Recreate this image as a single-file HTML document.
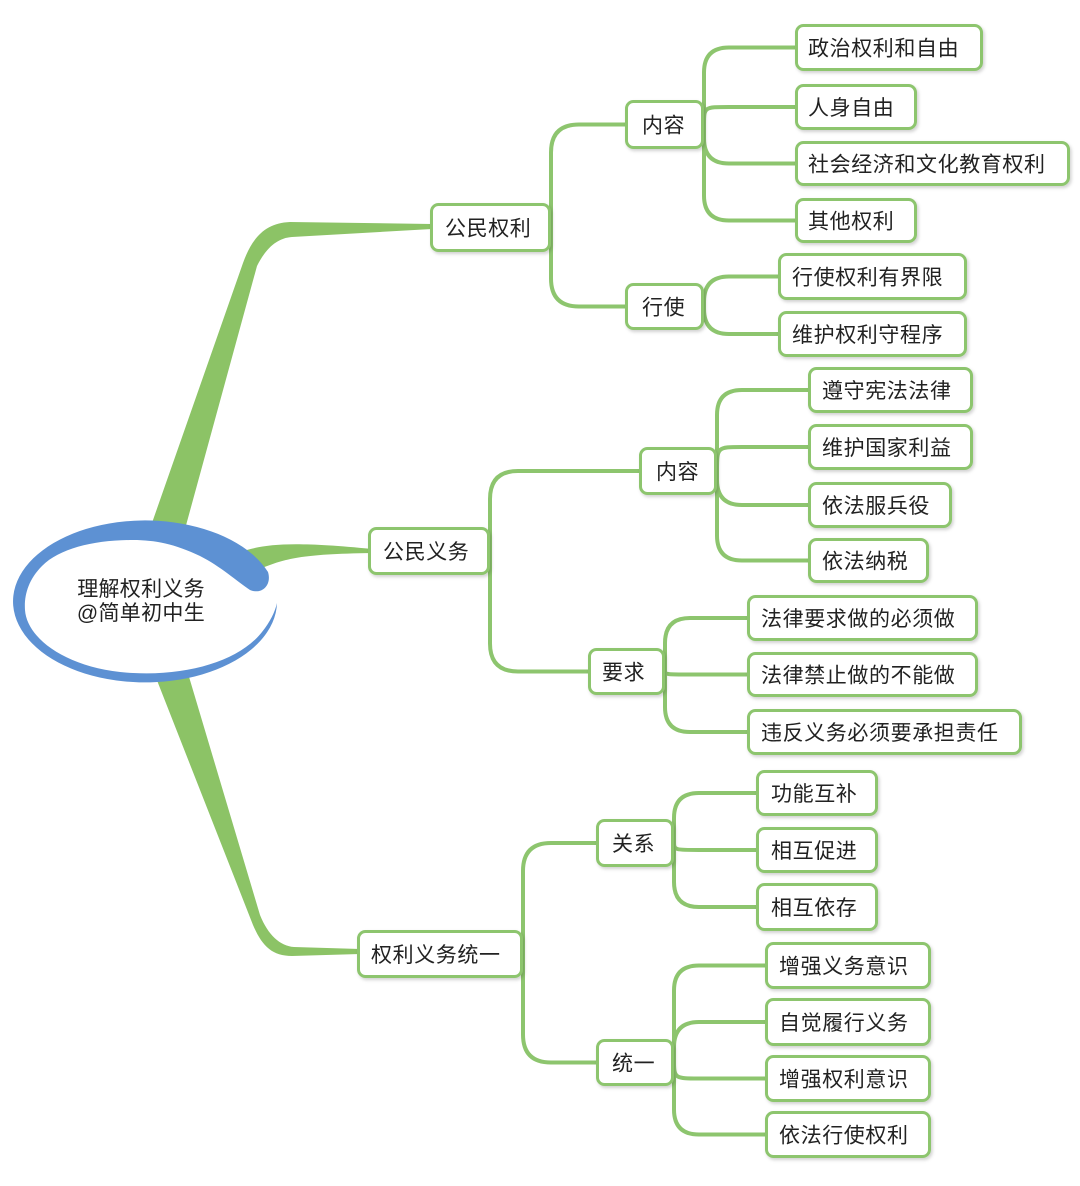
<!DOCTYPE html>
<html>
<head>
<meta charset="utf-8">
<style>
html,body{margin:0;padding:0;background:#fff;}
body{width:1080px;height:1186px;overflow:hidden;}
svg{display:block;}
.t{font-family:"Liberation Sans","Noto Sans CJK SC",sans-serif;font-size:21px;fill:#222;letter-spacing:0.6px;}
.c{fill:none;stroke:#8dc56e;stroke-width:4;stroke-linecap:round;stroke-linejoin:round;}
.b{fill:#fff;stroke:#8dc56e;stroke-width:3;}
</style>
</head>
<body>
<svg width="1080" height="1186" viewBox="0 0 1080 1186" xmlns="http://www.w3.org/2000/svg">
<defs>
<filter id="sh" x="-10%" y="-20%" width="130%" height="150%">
<feDropShadow dx="1.5" dy="2" stdDeviation="1.5" flood-color="#000" flood-opacity="0.18"/>
</filter>
</defs>

<!-- thick main branches -->
<path fill="#8cc366" d="M146 540 L243 263 C252 238 265 223 290 222 L432 224 L432 229 L292 237 C276 238 265 250 257 266 L182 540 Z"/>
<path fill="#8cc366" d="M240 552 C265 544 290 541 372 549 L372 553 C300 554 285 559 262 568 L245 575 Z"/>
<path fill="#8cc366" d="M149 660 L253 925 C262 946 272 956 292 956 L360 954 L360 949 L294 947 C280 946 268 935 260 915 L184 660 Z"/>

<!-- central ellipse -->
<ellipse cx="145" cy="601" rx="128" ry="77" fill="#fff"/>
<path fill="#5d91d3" d="M277 603 A132 81 0 1 1 268 572 C272 585 262 595 250 590 C238 582 220 566 200 556 C175 544 155 540 133 540 C95 540 60 548 42 566 C28 580 24 596 25 610 C27 640 70 670 133 673 C190 676 240 660 262 632 C270 622 275 612 277 603 Z"/>
<text class="t" x="205" y="596" text-anchor="end" style="letter-spacing:0.3px">理解权利义务</text>
<text class="t" x="205" y="620" text-anchor="end" style="letter-spacing:0.3px">@简单初中生</text>

<!-- connectors section 1 -->
<path class="c" d="M551 227.5 L551 152.5 Q551 124.5 579 124.5 L625 124.5"/>
<path class="c" d="M551 227.5 L551 278.5 Q551 306.5 579 306.5 L625 306.5"/>
<path class="c" d="M704 124.5 L704 72.5 Q704 47.5 729 47.5 L795 47.5"/>
<path class="c" d="M704 124.5 C704 107 704 107 729 107 L795 107"/>
<path class="c" d="M704 124.5 L704 138.5 Q704 163.5 729 163.5 L795 163.5"/>
<path class="c" d="M704 124.5 L704 195.5 Q704 220.5 729 220.5 L795 220.5"/>
<path class="c" d="M704 306.5 L704 301.5 Q704 276.5 729 276.5 L778 276.5"/>
<path class="c" d="M704 306.5 L704 309 Q704 334 729 334 L778 334"/>

<!-- connectors section 2 -->
<path class="c" d="M490 551 L490 499 Q490 471 518 471 L639 471"/>
<path class="c" d="M490 551 L490 643.5 Q490 671.5 518 671.5 L588 671.5"/>
<path class="c" d="M717 471 L717 415 Q717 390 742 390 L808 390"/>
<path class="c" d="M717 471 C717 447 717 447 742 447 L808 447"/>
<path class="c" d="M717 471 L717 480 Q717 505 742 505 L808 505"/>
<path class="c" d="M717 471 L717 535.5 Q717 560.5 742 560.5 L808 560.5"/>
<path class="c" d="M665 671.5 L665 643 Q665 618 690 618 L747 618"/>
<path class="c" d="M665 671.5 C665 674.5 668 674.5 690 674.5 L747 674.5"/>
<path class="c" d="M665 671.5 L665 707 Q665 732 690 732 L747 732"/>

<!-- connectors section 3 -->
<path class="c" d="M523 954 L523 871 Q523 843 551 843 L596 843"/>
<path class="c" d="M523 954 L523 1034.5 Q523 1062.5 551 1062.5 L596 1062.5"/>
<path class="c" d="M674 843 L674 818 Q674 793 699 793 L756 793"/>
<path class="c" d="M674 843 C674 850 676 850 699 850 L756 850"/>
<path class="c" d="M674 843 L674 882 Q674 907 699 907 L756 907"/>
<path class="c" d="M674 1062.5 L674 990.5 Q674 965.5 699 965.5 L765 965.5"/>
<path class="c" d="M674 1062.5 L674 1047 Q674 1022 699 1022 L765 1022"/>
<path class="c" d="M674 1062.5 C674 1078.5 676 1078.5 699 1078.5 L765 1078.5"/>
<path class="c" d="M674 1062.5 L674 1109.5 Q674 1134.5 699 1134.5 L765 1134.5"/>

<!-- boxes -->
<g filter="url(#sh)">
<rect class="b" x="431.5" y="204.5" width="118" height="46" rx="7"/>
<rect class="b" x="626.5" y="101.5" width="76" height="46" rx="7"/>
<rect class="b" x="626.5" y="284.5" width="76" height="44" rx="7"/>
<rect class="b" x="796.5" y="25.5" width="185" height="44" rx="7"/>
<rect class="b" x="796.5" y="85.5" width="119" height="43" rx="7"/>
<rect class="b" x="796.5" y="142.5" width="272" height="42" rx="7"/>
<rect class="b" x="796.5" y="199.5" width="119" height="42" rx="7"/>
<rect class="b" x="779.5" y="254.5" width="186" height="44" rx="7"/>
<rect class="b" x="779.5" y="312.5" width="186" height="43" rx="7"/>

<rect class="b" x="369.5" y="528.5" width="119" height="45" rx="7"/>
<rect class="b" x="640.5" y="448.5" width="75" height="45" rx="7"/>
<rect class="b" x="589.5" y="649.5" width="74" height="44" rx="7"/>
<rect class="b" x="809.5" y="368.5" width="162" height="43" rx="7"/>
<rect class="b" x="809.5" y="425.5" width="162" height="43" rx="7"/>
<rect class="b" x="809.5" y="483.5" width="141" height="43" rx="7"/>
<rect class="b" x="809.5" y="539.5" width="118" height="42" rx="7"/>
<rect class="b" x="748.5" y="596.5" width="228" height="43" rx="7"/>
<rect class="b" x="748.5" y="653.5" width="228" height="42" rx="7"/>
<rect class="b" x="748.5" y="710.5" width="272" height="43" rx="7"/>

<rect class="b" x="358.5" y="931.5" width="163" height="45" rx="7"/>
<rect class="b" x="597.5" y="820.5" width="75" height="45" rx="7"/>
<rect class="b" x="597.5" y="1040.5" width="75" height="44" rx="7"/>
<rect class="b" x="757.5" y="771.5" width="119" height="43" rx="7"/>
<rect class="b" x="757.5" y="828.5" width="119" height="43" rx="7"/>
<rect class="b" x="757.5" y="884.5" width="119" height="45" rx="7"/>
<rect class="b" x="766.5" y="943.5" width="163" height="44" rx="7"/>
<rect class="b" x="766.5" y="999.5" width="163" height="45" rx="7"/>
<rect class="b" x="766.5" y="1056.5" width="163" height="44" rx="7"/>
<rect class="b" x="766.5" y="1112.5" width="163" height="44" rx="7"/>
</g>

<!-- labels -->
<text class="t" x="445" y="235.5">公民权利</text>
<text class="t" x="642" y="132.5">内容</text>
<text class="t" x="642" y="314.5">行使</text>
<text class="t" x="808" y="55.5">政治权利和自由</text>
<text class="t" x="808" y="115">人身自由</text>
<text class="t" x="808" y="171.5">社会经济和文化教育权利</text>
<text class="t" x="808" y="228.5">其他权利</text>
<text class="t" x="792" y="284.5">行使权利有界限</text>
<text class="t" x="792" y="342">维护权利守程序</text>

<text class="t" x="383" y="559">公民义务</text>
<text class="t" x="656" y="479">内容</text>
<text class="t" x="602" y="679.5">要求</text>
<text class="t" x="822" y="398">遵守宪法法律</text>
<text class="t" x="822" y="455">维护国家利益</text>
<text class="t" x="822" y="513">依法服兵役</text>
<text class="t" x="822" y="568.5">依法纳税</text>
<text class="t" x="761" y="626">法律要求做的必须做</text>
<text class="t" x="761" y="682.5">法律禁止做的不能做</text>
<text class="t" x="761" y="740">违反义务必须要承担责任</text>

<text class="t" x="371" y="962">权利义务统一</text>
<text class="t" x="612" y="851">关系</text>
<text class="t" x="612" y="1070.5">统一</text>
<text class="t" x="771" y="801">功能互补</text>
<text class="t" x="771" y="858">相互促进</text>
<text class="t" x="771" y="915">相互依存</text>
<text class="t" x="779" y="973.5">增强义务意识</text>
<text class="t" x="779" y="1030">自觉履行义务</text>
<text class="t" x="779" y="1086.5">增强权利意识</text>
<text class="t" x="779" y="1142.5">依法行使权利</text>
</svg>
</body>
</html>
